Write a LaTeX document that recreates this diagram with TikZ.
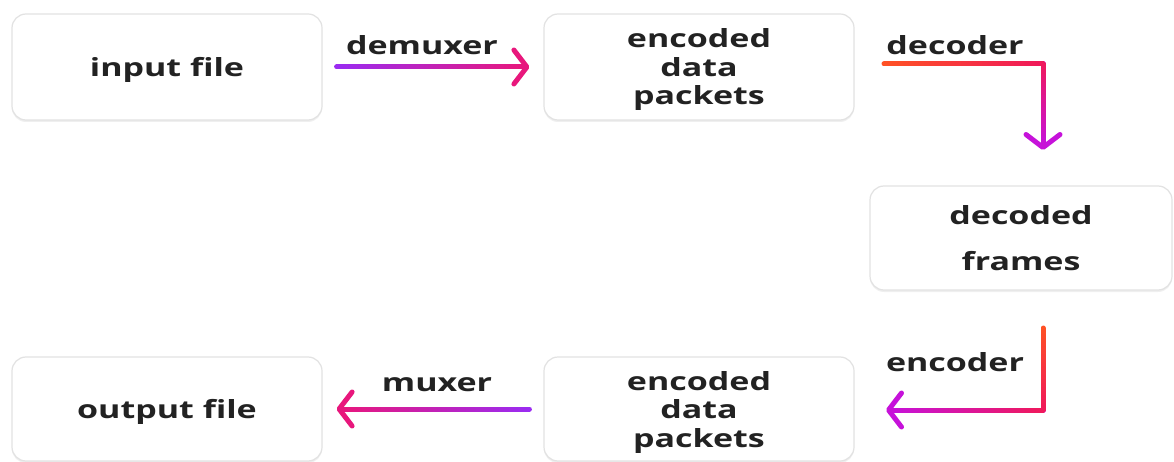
\documentclass[tikz,border=0pt]{standalone}
\usepackage{fontspec}
\setmainfont{Open Sans}[FakeStretch=1.36]
\usetikzlibrary{arrows.meta,calc,shadows}
\definecolor{txt}{HTML}{222222}
\definecolor{boxline}{HTML}{E2E2E2}
\definecolor{vio}{HTML}{9A2CF2}
\definecolor{pnk}{HTML}{E8177C}
\definecolor{org}{HTML}{FF5224}
\definecolor{rdp}{HTML}{F0195A}
\definecolor{mag}{HTML}{C612DA}
\newcommand{\gradleg}[5]{%
  \foreach \k in {1,...,#5}{%
    \pgfmathsetmacro{\pa}{(\k-1)/#5}%
    \pgfmathsetmacro{\pb}{\k/#5}%
    \pgfmathtruncatemacro{\pc}{100*(\k-0.5)/#5}%
    \draw[line width=5pt, line cap=round, color=#4!\pc!#3] ($(#1)!\pa!(#2)$) -- ($(#1)!\pb!(#2)$);
  }%
}
\begin{document}
\begin{tikzpicture}[x=1pt,y=-1pt,
  box/.style={draw=boxline, line width=1.2pt, fill=white, rounded corners=14pt,
    minimum width=310pt, minimum height=106pt, align=center, inner sep=0pt,
    font=\fontsize{25}{28.5}\selectfont\bfseries, text=txt, text depth=-2pt,
    drop shadow={shadow xshift=0pt, shadow yshift=-2pt, opacity=0.12}},
  lbl/.style={font=\fontsize{25}{28}\selectfont\bfseries, text=txt, inner sep=0pt},
  arr/.style={line width=5pt, -{Straight Barb[length=13pt, width=34pt, round]}}]
\useasboundingbox (0,0) rectangle (1174,462);
\fill[white] (0,0) rectangle (1174,462);

\node[box] (in) at (167,67) {input file};
\node[box] (enc1) at (699,67) {encoded\\data\\packets};
\node[box, minimum width=302pt, minimum height=104pt, text depth=-4pt] (dec) at (1021,238) {decoded\\[17pt]frames};
\node[box, minimum height=104pt] (enc2) at (699,409) {encoded\\data\\packets};
\node[box, minimum height=104pt] (out) at (167,409) {output file};

% demuxer
\coordinate (dmxS) at ([xshift=14pt]in.east);
\coordinate (dmxT) at ([xshift=-14pt]enc1.west);
\draw[arr, pnk] (dmxS) -- (dmxT);
\gradleg{dmxS}{$(dmxT)+(-4,0)$}{vio}{pnk}{40}
\node[lbl] (ldmx) at (422,45) {demuxer};

% decoder
\coordinate (decS) at (884,64);
\coordinate (decC) at (1043,64);
\coordinate (decT) at (1043,150);
\draw[arr, mag, line join=round] (decS) -- (decC) -- (decT);
\gradleg{decS}{decC}{org}{rdp}{30}
\gradleg{decC}{$(decT)+(0,-4)$}{rdp}{mag}{20}
\node[lbl] (ldec) at (955,45) {decoder};

% encoder
\coordinate (encS) at (1043,328);
\coordinate (encC) at (1043,410);
\coordinate (encT) at (886,410);
\draw[arr, mag, line join=round] (encS) -- (encC) -- (encT);
\gradleg{encS}{encC}{org}{rdp}{20}
\gradleg{encC}{$(encT)+(4,0)$}{rdp}{mag}{30}
\node[lbl] (lenc) at (955,362) {encoder};

% muxer
\coordinate (muxS) at ([xshift=-14pt]enc2.west);
\coordinate (muxT) at ([xshift=14pt]out.east);
\draw[arr, pnk] (muxS) -- (muxT);
\gradleg{muxS}{$(muxT)+(4,0)$}{vio}{pnk}{40}
\node[lbl] (lmux) at (437,385) {muxer};
\end{tikzpicture}
\end{document}
